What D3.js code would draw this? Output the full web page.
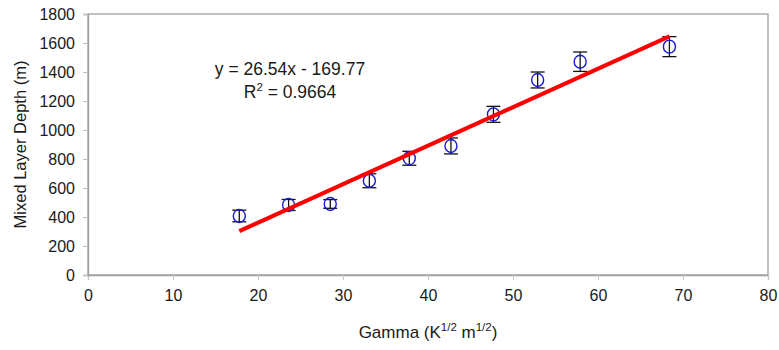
<!DOCTYPE html>
<html>
<head>
<meta charset="utf-8">
<script src="https://cdn.jsdelivr.net/npm/d3@7"></script>
<style>
  body { margin: 0; background: #fff; }
  svg { display: block; font-family: "Liberation Sans", Arial, sans-serif; }
</style>
</head>
<body>
<svg id="chart" width="779" height="350"></svg>
<script>
// measured points (gamma vs mixed layer depth)
const gamma = [17.8, 23.6, 28.5, 33.1, 37.8, 42.7, 47.7, 52.9, 57.9, 68.4];
const depth = [407, 483, 490, 650, 805, 890, 1108, 1345, 1471, 1575];
const depthErr = [40, 38, 30, 48, 48, 55, 55, 55, 67, 69];

// linear fit shown on chart
const slope = 26.54;
const intercept = -169.77;
const fitRange = [17.8, 68.4];

const xTicks = [0, 10, 20, 30, 40, 50, 60, 70, 80];
const yTicks = [0, 200, 400, 600, 800, 1000, 1200, 1400, 1600, 1800];

const svg = d3.select("#chart");
const marginLeft = 88, marginRight = 11, marginTop = 14, marginBottom = 75;
const width = 779, height = 350;
const tickFont = 16;
const labelFont = 17;
const textColor = "#1a1a1a";

const x = d3.scaleLinear().domain([0, 80]).range([marginLeft, width - marginRight]);
const y = d3.scaleLinear().domain([0, 1800]).range([height - marginBottom, marginTop]);

const axisColor = "#a0a0a0";

// plot frame
svg.append("rect")
    .attr("x", x(0)).attr("y", y(1800))
    .attr("width", x(80) - x(0)).attr("height", y(0) - y(1800))
    .attr("fill", "none").attr("stroke", axisColor).attr("stroke-width", 1.3);

// x axis
const xAxis = svg.append("g")
    .attr("transform", `translate(0,${y(0)})`)
    .call(d3.axisBottom(x).tickValues(xTicks).tickFormat(d3.format("d")).tickSize(5).tickPadding(10));
xAxis.select(".domain").attr("stroke", axisColor).attr("stroke-width", 1.3);
xAxis.selectAll(".tick line").attr("stroke", "#c8c8c8");
xAxis.selectAll(".tick text").attr("font-size", tickFont).attr("fill", textColor)
    .attr("font-family", "Liberation Sans, Arial, sans-serif");

// y axis
const yAxis = svg.append("g")
    .attr("transform", `translate(${x(0)},0)`)
    .call(d3.axisLeft(y).tickValues(yTicks).tickFormat(d3.format("d")).tickSize(5).tickPadding(8));
yAxis.select(".domain").attr("stroke", axisColor).attr("stroke-width", 1.3);
yAxis.selectAll(".tick line").attr("stroke", "#c0c0c0");
yAxis.selectAll(".tick text").attr("font-size", tickFont).attr("fill", textColor)
    .attr("font-family", "Liberation Sans, Arial, sans-serif");

// axis titles
svg.append("text")
    .attr("transform", `translate(26,${(y(0) + y(1800)) / 2}) rotate(-90)`)
    .attr("text-anchor", "middle")
    .attr("font-size", 16.5).attr("fill", textColor)
    .text("Mixed Layer Depth (m)");

const xt = svg.append("text")
    .attr("x", (x(0) + x(80)) / 2).attr("y", 338)
    .attr("text-anchor", "middle")
    .attr("font-size", labelFont).attr("fill", textColor);
xt.append("tspan").text("Gamma (K");
xt.append("tspan").attr("font-size", 11.5).attr("dy", -7).text("1/2");
xt.append("tspan").attr("dy", 7).text(" m");
xt.append("tspan").attr("font-size", 11.5).attr("dy", -7).text("1/2");
xt.append("tspan").attr("dy", 7).text(")");

// error bars
const pts = gamma.map((g, i) => ({ x: g, y: depth[i], e: depthErr[i] }));
const eb = svg.append("g").attr("stroke", "#111").attr("stroke-width", 1.3);
pts.forEach(d => {
    eb.append("line").attr("x1", x(d.x)).attr("x2", x(d.x))
        .attr("y1", y(d.y - d.e)).attr("y2", y(d.y + d.e));
    eb.append("line").attr("x1", x(d.x) - 7).attr("x2", x(d.x) + 7)
        .attr("y1", y(d.y - d.e)).attr("y2", y(d.y - d.e));
    eb.append("line").attr("x1", x(d.x) - 7).attr("x2", x(d.x) + 7)
        .attr("y1", y(d.y + d.e)).attr("y2", y(d.y + d.e));
});

// markers
svg.append("g").selectAll("ellipse")
    .data(pts)
    .join("ellipse")
    .attr("cx", d => x(d.x)).attr("cy", d => y(d.y))
    .attr("rx", 6).attr("ry", 6.5)
    .attr("fill", "none").attr("stroke", "#1a1ad6").attr("stroke-width", 1.4);

// fit line
svg.append("line")
    .attr("x1", x(fitRange[0])).attr("y1", y(slope * fitRange[0] + intercept))
    .attr("x2", x(fitRange[1])).attr("y2", y(slope * fitRange[1] + intercept))
    .attr("stroke", "#ff0000").attr("stroke-width", 4);

// equation labels
svg.append("text")
    .attr("x", 290).attr("y", 75)
    .attr("text-anchor", "middle").attr("font-size", 17.5).attr("fill", textColor)
    .text(`y = ${slope}x - ${Math.abs(intercept)}`);
const r2 = svg.append("text")
    .attr("x", 290).attr("y", 98)
    .attr("text-anchor", "middle").attr("font-size", 17.5).attr("fill", textColor);
r2.append("tspan").text("R");
r2.append("tspan").attr("font-size", 11.5).attr("dy", -7).text("2");
r2.append("tspan").attr("dy", 7).text(" = 0.9664");
</script>
</body>
</html>
